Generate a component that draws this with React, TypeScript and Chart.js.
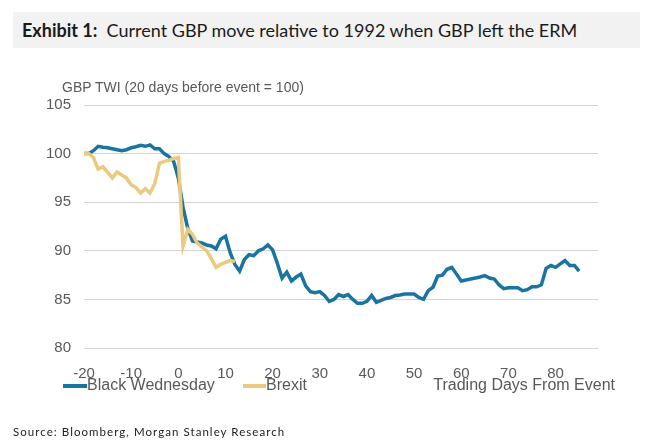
import React, { useEffect, useRef } from "react";
import { Chart, registerables } from "chart.js";

Chart.register(...registerables);

const startDay = -20;

const blackWednesday = [
  100, 100, 100.3, 100.75, 100.65, 100.6, 100.5, 100.4, 100.3, 100.4,
  100.6, 100.7, 100.85, 100.75, 100.9, 100.5, 100.5, 100.0, 99.7, 99.2,
  97.5, 94.5, 92.3, 91.0, 90.9, 90.8, 90.6, 90.5, 90.2, 91.2,
  91.5, 89.8, 88.6, 87.9, 89.1, 89.6, 89.5, 90.0, 90.2, 90.6,
  90.1, 88.7, 87.2, 87.8, 86.9, 87.3, 87.6, 86.4, 85.8, 85.7,
  85.8, 85.4, 84.8, 85.0, 85.5, 85.3, 85.5, 85.0, 84.6, 84.6,
  84.8, 85.4, 84.7, 84.9, 85.1, 85.2, 85.4, 85.45, 85.55, 85.55,
  85.55, 85.2, 85.0, 85.9, 86.25, 87.4, 87.5, 88.1, 88.3, 87.6,
  86.9, 87.0, 87.1, 87.2, 87.3, 87.45, 87.2, 87.1, 86.5, 86.1,
  86.2, 86.2, 86.2, 85.9, 86.0, 86.3, 86.3, 86.5, 88.2, 88.5,
  88.3, 88.65, 89.0, 88.5, 88.5, 87.9,
];

const brexit = [
  100, 100, 99.6, 98.4, 98.65, 98.1, 97.5, 98.1, 97.8, 97.5,
  96.8, 96.5, 95.95, 96.4, 95.95, 96.9, 99.0, 99.2, 99.3, 99.5,
  99.6, 90.5, 92.2, 91.7, 90.8, 90.4, 90.0, 89.2, 88.3, 88.6,
  88.8, 89.0, 88.9,
];

const xTicks = [-20, -10, 0, 10, 20, 30, 40, 50, 60, 70, 80];
const yTicks = [80, 85, 90, 95, 100, 105];

const BLUE = "#1a74a2";
const GOLD = "#ebc97e";
const GREY_TEXT = "#595959";
const FONT = "'Liberation Sans', Arial, sans-serif";

export default function App() {
  const ref = useRef<HTMLCanvasElement>(null);

  useEffect(() => {
    if (!ref.current) return;
    const chart = new Chart(ref.current, {
      type: "line",
      data: {
        datasets: [
          {
            label: "Black Wednesday",
            data: blackWednesday.map((v, i) => ({ x: startDay + i, y: v })),
            borderColor: BLUE,
            borderWidth: 3.5,
            pointRadius: 0,
            tension: 0,
            order: 1,
          },
          {
            label: "Brexit",
            data: brexit.map((v, i) => ({ x: startDay + i, y: v })),
            borderColor: GOLD,
            borderWidth: 3.5,
            pointRadius: 0,
            tension: 0,
            order: 0,
          },
        ],
      },
      options: {
        animation: false,
        responsive: false,
        maintainAspectRatio: false,
        layout: { padding: { left: 0, top: 105, right: 47, bottom: 65 } },
        plugins: { legend: { display: false }, tooltip: { enabled: false } },
        scales: {
          x: {
            type: "linear",
            min: -20,
            max: 89,
            afterBuildTicks: (axis: any) => {
              axis.ticks = xTicks.map((v) => ({ value: v }));
            },
            afterFit: (scale: any) => {
              scale.height = 30;
            },
            grid: { display: false },
            border: { display: false },
            ticks: {
              padding: 9,
              color: GREY_TEXT,
              font: { family: FONT, size: 15 },
              maxRotation: 0,
              autoSkip: false,
            },
          },
          y: {
            type: "linear",
            min: 80,
            max: 105,
            afterBuildTicks: (axis: any) => {
              axis.ticks = yTicks.map((v) => ({ value: v }));
            },
            afterFit: (scale: any) => {
              scale.width = 84;
            },
            grid: { color: "#d4d4d4", lineWidth: 1, drawTicks: false },
            border: { display: false },
            ticks: {
              padding: 13,
              color: GREY_TEXT,
              font: { family: FONT, size: 15 },
            },
          },
        },
      },
    });
    return () => chart.destroy();
  }, []);

  return (
    <div style={{ position: "absolute", left: 0, top: 0, width: 645, height: 443, background: "#fff", overflow: "hidden" }}>
      <div
        style={{
          position: "absolute",
          left: 13,
          top: 12,
          width: 627,
          height: 36,
          background: "#f2f2f2",
        }}
      />
      <div
        style={{
          position: "absolute",
          left: 22,
          top: 18,
          fontFamily: "Lato, 'Noto Sans', sans-serif",
          fontSize: 18,
          lineHeight: "24px",
          color: "#1a1a1a",
          whiteSpace: "nowrap",
        }}
      >
        <b>Exhibit 1:</b>&nbsp; Current GBP move relative to 1992 when GBP left the ERM
      </div>
      <canvas ref={ref} width={645} height={443} style={{ position: "absolute", left: 0, top: 0, width: 645, height: 443 }} />
      <div
        style={{
          position: "absolute",
          left: 62,
          top: 77,
          fontFamily: FONT,
          fontSize: 14,
          lineHeight: "20px",
          color: GREY_TEXT,
          whiteSpace: "nowrap",
        }}
      >
        GBP TWI (20 days before event = 100)
      </div>
      <div style={{ position: "absolute", left: 63, top: 384, width: 24, height: 3.5, background: BLUE }} />
      <div
        style={{ position: "absolute", left: 87, top: 375, fontFamily: FONT, fontSize: 16, lineHeight: "20px", color: GREY_TEXT, whiteSpace: "nowrap" }}
      >
        Black Wednesday
      </div>
      <div style={{ position: "absolute", left: 243, top: 384, width: 23, height: 3.5, background: GOLD }} />
      <div
        style={{ position: "absolute", left: 266, top: 375, fontFamily: FONT, fontSize: 16, lineHeight: "20px", color: GREY_TEXT, whiteSpace: "nowrap" }}
      >
        Brexit
      </div>
      <div
        style={{ position: "absolute", right: 30, top: 375, fontFamily: FONT, fontSize: 16, lineHeight: "20px", color: GREY_TEXT, whiteSpace: "nowrap" }}
      >
        Trading Days From Event
      </div>
      <div
        style={{
          position: "absolute",
          left: 13,
          top: 424,
          fontFamily: "Lato, 'Noto Sans', sans-serif",
          fontSize: 11.5,
          letterSpacing: 1.05,
          lineHeight: "16px",
          color: "#222",
          whiteSpace: "nowrap",
        }}
      >
        Source: Bloomberg, Morgan Stanley Research
      </div>
    </div>
  );
}
